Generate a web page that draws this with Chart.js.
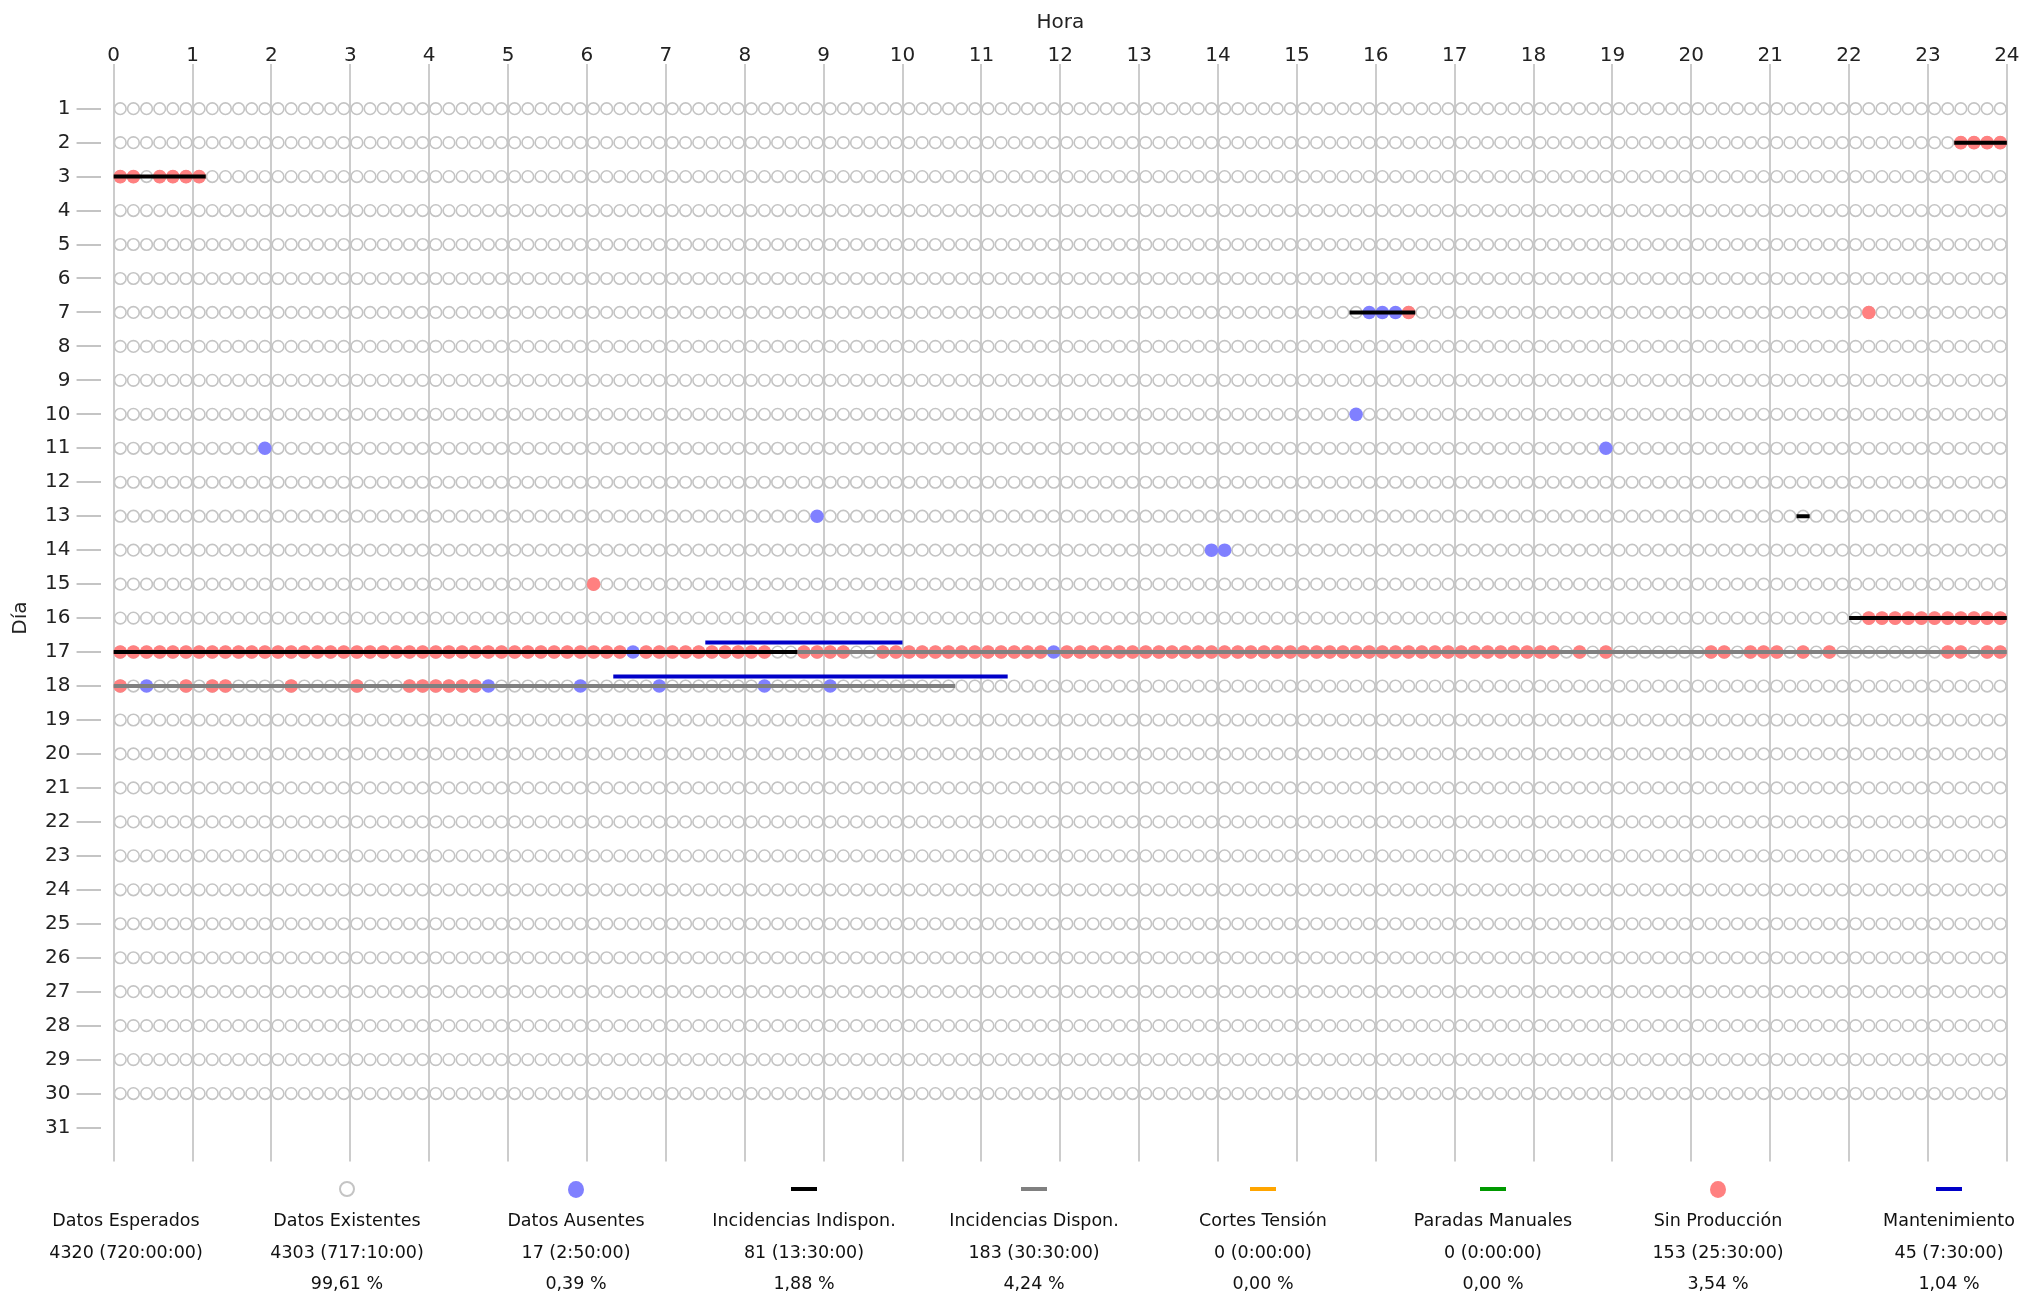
<!DOCTYPE html>
<html><head><meta charset="utf-8">
<script src="https://cdn.jsdelivr.net/npm/chart.js@4.4.0/dist/chart.umd.min.js"></script>
<style>
html,body{margin:0;padding:0;background:#fff;width:2021px;height:1295px;overflow:hidden;font-family:"DejaVu Sans",sans-serif;}
#wrap{position:absolute;left:0;top:0;width:2021px;height:1170px;}
#legend{position:absolute;left:0;top:0;width:2021px;height:1295px;}
.txt{position:absolute;width:260px;text-align:center;font-size:17.5px;color:#111;line-height:31.5px;height:31.5px;white-space:nowrap;}
.sym{position:absolute;box-sizing:border-box;}
</style></head><body>
<div id="wrap"><canvas id="c" width="2021" height="1170"></canvas></div>
<div id="legend"></div>
<script>
// ---- tick labels ----
const hourTicks = [0,1,2,3,4,5,6,7,8,9,10,11,12,13,14,15,16,17,18,19,20,21,22,23,24];
const hourLabels = ['0','1','2','3','4','5','6','7','8','9','10','11','12','13','14','15','16','17','18','19','20','21','22','23','24'];
const dayTicks = [1,2,3,4,5,6,7,8,9,10,11,12,13,14,15,16,17,18,19,20,21,22,23,24,25,26,27,28,29,30,31];
const dayLabels = ['1','2','3','4','5','6','7','8','9','10','11','12','13','14','15','16','17','18','19','20','21','22','23','24','25','26','27','28','29','30','31'];

// ---- records: days with data, 10-minute slots ----
const recordDays = [1,2,3,4,5,6,7,8,9,10,11,12,13,14,15,16,17,18,19,20,21,22,23,24,25,26,27,28,29,30];
const slotMinutes = 10;

// Datos Ausentes: [day, slot start]
const datosAusentes = [[7,'15:50'],[7,'16:00'],[7,'16:10'],[10,'15:40'],[11,'01:50'],[11,'18:50'],[13,'08:50'],[14,'13:50'],[14,'14:00'],[17,'06:30'],[17,'11:50'],[18,'00:20'],[18,'04:40'],[18,'05:50'],[18,'06:50'],[18,'08:10'],[18,'09:00']];

// Sin Producción: [day, from, to]
const sinProduccion = [
  [2,'23:20','24:00'],
  [3,'00:00','00:20'],[3,'00:30','01:10'],
  [7,'16:20','16:30'],[7,'22:10','22:20'],
  [15,'06:00','06:10'],
  [16,'22:10','24:00'],
  [17,'00:00','06:30'],[17,'06:40','08:20'],[17,'08:40','09:20'],[17,'09:40','11:50'],[17,'12:00','18:20'],[17,'18:30','18:40'],[17,'18:50','19:00'],[17,'20:10','20:30'],[17,'20:40','21:10'],[17,'21:20','21:30'],[17,'21:40','21:50'],[17,'23:10','23:30'],[17,'23:40','24:00'],
  [18,'00:00','00:10'],[18,'00:50','01:00'],[18,'01:10','01:30'],[18,'02:10','02:20'],[18,'03:00','03:10'],[18,'03:40','04:40']
];

// Incidence periods: [day, from, to]
const incidenciasIndispon = [[2,'23:20','24:00'],[3,'00:00','01:10'],[7,'15:40','16:30'],[13,'21:20','21:30'],[16,'22:00','24:00'],[17,'00:00','08:40']];
const incidenciasDispon = [[17,'08:40','24:00'],[18,'00:00','10:40']];
const cortesTension = [];
const paradasManuales = [];
const mantenimiento = [[17,'07:30','10:00'],[18,'06:20','11:20']];

// ---- legend / summary ----
const legendNames = ['Datos Esperados','Datos Existentes','Datos Ausentes','Incidencias Indispon.','Incidencias Dispon.','Cortes Tensión','Paradas Manuales','Sin Producción','Mantenimiento'];
const legendCounts = ['4320','4303','17','81','183','0','0','153','45'];
const legendDurations = ['720:00:00','717:10:00','2:50:00','13:30:00','30:30:00','0:00:00','0:00:00','25:30:00','7:30:00'];
const legendPercents = ['','99,61 %','0,39 %','1,88 %','4,24 %','0,00 %','0,00 %','3,54 %','1,04 %'];
const legendSymbols = ['none','ring','dot','line','line','line','line','dot','line'];
const legendColors = ['','#c4c4c4','#8080ff','#000000','#808080','#ffa500','#009900','#ff8080','#0000c8'];

// ---- helpers ----
const toH = s => { const [h,m] = s.split(':').map(Number); return h + m/60; };
const half = slotMinutes/2/60;
const key = (d,t) => d + '|' + t.toFixed(4);

function expandRuns(runs){
  const pts = [];
  runs.forEach(([d,a,b]) => {
    for (let t = toH(a); t < toH(b) - 1e-6; t += slotMinutes/60) pts.push({x: t + half, y: d});
  });
  return pts;
}
function segments(runs, dy){
  const pts = [];
  runs.forEach(([d,a,b]) => {
    pts.push({x: toH(a), y: d + dy});
    pts.push({x: toH(b), y: d + dy});
    pts.push({x: toH(b), y: null});
  });
  return pts;
}
const absentPts = datosAusentes.map(([d,t]) => ({x: toH(t) + half, y: d}));
const absentSet = new Set(absentPts.map(p => key(p.y, p.x)));
const existingPts = [];
recordDays.forEach(d => {
  for (let t = 0; t < 24 - 1e-6; t += slotMinutes/60) {
    const x = t + half;
    if (!absentSet.has(key(d, x))) existingPts.push({x, y: d});
  }
});

const FONT = '"DejaVu Sans", sans-serif';
const lineDs = (label, runs, color, dy) => ({
  label, data: segments(runs, dy), showLine: true, borderColor: color, backgroundColor: color,
  borderWidth: 4, pointRadius: 0, pointHoverRadius: 0, spanGaps: false, borderCapStyle: 'butt', order: 0
});
const noPad = s => { s.paddingLeft = 0; s.paddingRight = 0; s.paddingTop = 0; s.paddingBottom = 0; };

new Chart(document.getElementById('c'), {
  type: 'scatter',
  data: { datasets: [
    lineDs('Incidencias Indispon.', incidenciasIndispon, '#000000', 0),
    lineDs('Incidencias Dispon.', incidenciasDispon, '#808080', 0),
    lineDs('Cortes Tensión', cortesTension, '#ffa500', 0),
    lineDs('Paradas Manuales', paradasManuales, '#009900', 0),
    lineDs('Mantenimiento', mantenimiento, '#0000c8', -0.28),
    { label: 'Sin Producción', data: expandRuns(sinProduccion), pointRadius: 6.8, pointBorderWidth: 0, borderWidth: 0,
      backgroundColor: '#ff8080', pointBackgroundColor: '#ff8080', order: 1 },
    { label: 'Datos Ausentes', data: absentPts, pointRadius: 6.8, pointBorderWidth: 0, borderWidth: 0,
      backgroundColor: '#8080ff', pointBackgroundColor: '#8080ff', order: 1 },
    { label: 'Datos Existentes', data: existingPts, pointRadius: 5.8, borderWidth: 1.6,
      borderColor: '#c4c4c4', pointBorderColor: '#c4c4c4', backgroundColor: 'rgba(0,0,0,0)', pointBackgroundColor: 'rgba(0,0,0,0)', order: 2 }
  ]},
  options: {
    responsive: false, animation: false, devicePixelRatio: 1,
    events: [],
    layout: { autoPadding: false, padding: { left: 0, right: 1, top: 3, bottom: 8.5 } },
    plugins: { legend: { display: false }, tooltip: { enabled: false } },
    scales: {
      x: {
        type: 'linear', position: 'top', min: -1/6, max: 24 + 1/6,
        afterBuildTicks: s => { s.ticks = hourTicks.map(v => ({ value: v })); },
        afterFit: noPad,
        ticks: { autoSkip: false, maxRotation: 0, padding: -2, color: '#222',
          font: { family: FONT, size: 20, lineHeight: 1 },
          callback: v => hourLabels[hourTicks.indexOf(v)] },
        grid: { color: '#cccccc', lineWidth: 2, drawTicks: true, tickLength: 10.7 },
        border: { display: false },
        title: { display: true, text: 'Hora', color: '#222', font: { family: FONT, size: 20 }, padding: { top: 8, bottom: 13 } }
      },
      y: {
        type: 'linear', position: 'left', reverse: true, min: 0, max: 32,
        afterBuildTicks: s => { s.ticks = dayTicks.map(v => ({ value: v })); },
        afterFit: noPad,
        ticks: { autoSkip: false, padding: 6, color: '#222', font: { family: FONT, size: 20 },
          callback: v => dayLabels[dayTicks.indexOf(v)] },
        grid: { drawOnChartArea: false, drawTicks: true, tickLength: 24, color: '#c4c4c4', lineWidth: 2 },
        border: { display: false },
        title: { display: true, text: 'Día', color: '#222', font: { family: FONT, size: 20 }, padding: { top: 9, bottom: 6.1 } }
      }
    }
  }
});

// ---- summary legend (HTML) ----
const colCenters = [126, 347, 576, 804, 1034, 1263, 1493, 1718, 1949];
const lg = document.getElementById('legend');
legendNames.forEach((name, i) => {
  const cx = colCenters[i];
  const rows = [name, legendCounts[i] + ' (' + legendDurations[i] + ')', legendPercents[i]];
  [1221, 1253, 1284].forEach((cy, r) => {
    if (!rows[r]) return;
    const d = document.createElement('div');
    d.className = 'txt';
    d.style.left = (cx - 130) + 'px';
    d.style.top = (cy - 15.75) + 'px';
    d.textContent = rows[r];
    lg.appendChild(d);
  });
  const s = document.createElement('div');
  s.className = 'sym';
  const t = legendSymbols[i];
  if (t === 'ring') {
    Object.assign(s.style, { width: '16px', height: '16px', left: (cx - 8) + 'px', top: (1189 - 8) + 'px', border: '2px solid ' + legendColors[i], borderRadius: '50%' });
  } else if (t === 'dot') {
    Object.assign(s.style, { width: '16px', height: '17px', left: (cx - 8) + 'px', top: (1189 - 8.5) + 'px', background: legendColors[i], borderRadius: '50%' });
  } else if (t === 'line') {
    Object.assign(s.style, { width: '26px', height: '4px', left: (cx - 13) + 'px', top: (1189 - 2) + 'px', background: legendColors[i] });
  } else return;
  lg.appendChild(s);
});
</script>
</body></html>
